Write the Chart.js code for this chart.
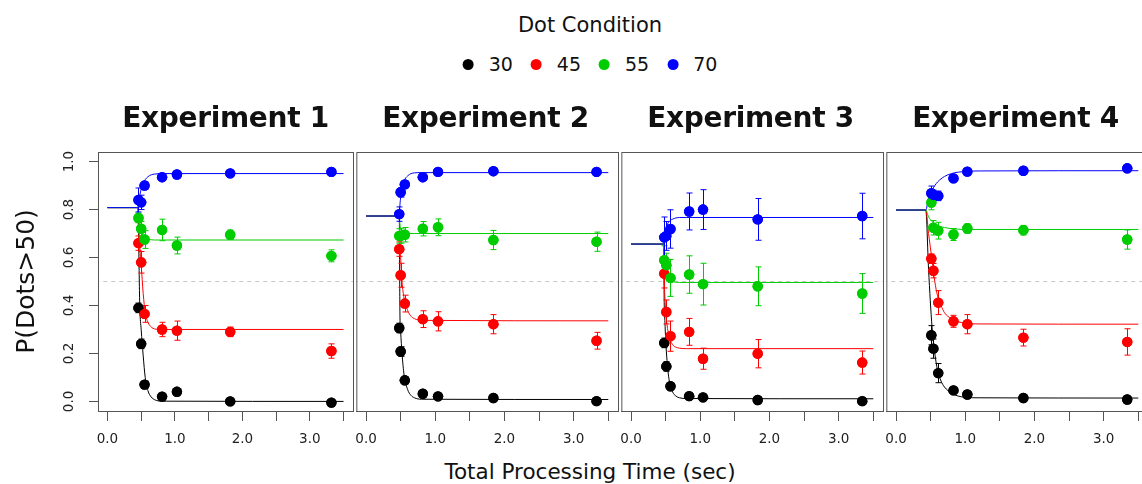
<!DOCTYPE html>
<html lang="en">
<head>
<meta charset="UTF-8">
<title>Dot Condition</title>
<script src="https://cdn.jsdelivr.net/npm/chart.js"></script>
<style>
    body {
        margin: 0;
        background: #ffffff;
        font-family: 'DejaVu Sans', sans-serif;
        color: #111111;
    }

    .fig {
        position: relative;
        width: 1142px;
        height: 484px;
        overflow: hidden;
    }

    .fig canvas {
        position: absolute;
        top: 0;
    }

    .head {
        position: absolute;
        left: 590px;
        transform: translateX(-50%);
        white-space: nowrap;
    }

    #legend-title {
        top: 15px;
        font-size: 21px;
        line-height: 21px;
    }

    #legend {
        top: 55px;
        font-size: 19px;
        line-height: 19px;
        display: flex;
        align-items: center;
    }

    #legend .dot {
        display: inline-block;
        width: 11px;
        height: 11px;
        border-radius: 50%;
        margin: 0 15px 0 18px;
    }

    #legend .dot:first-child {
        margin-left: 0;
    }

    .exp-title {
        position: absolute;
        top: 104px;
        font-size: 28px;
        line-height: 28px;
        font-weight: bold;
        transform: translateX(-50%);
        white-space: nowrap;
        letter-spacing: -0.3px;
    }

    #x-title {
        top: 461px;
        font-size: 21.5px;
        line-height: 21.5px;
    }
</style>
</head>
<body>
<div class="fig" id="fig">
    <div class="head" id="legend-title">Dot Condition</div>
    <div class="head" id="legend"></div>
    <div class="head" id="x-title">Total Processing Time (sec)</div>
</div>
<script>
    const conditions = ['30', '45', '55', '70'];
    const colors = ['#000000', '#ff0000', '#00cd00', '#0000ff'];
    const experiments = ['Experiment 1', 'Experiment 2', 'Experiment 3', 'Experiment 4'];

    const xTicks = [0, 0.5, 1, 1.5, 2, 2.5, 3, 3.5];
    const xTickLabels = ['0.0', '', '1.0', '', '2.0', '', '3.0', ''];
    const yTicks = [0, 0.2, 0.4, 0.6, 0.8, 1.0];
    const yTickLabels = ['0.0', '0.2', '0.4', '0.6', '0.8', '1.0'];

    // observed P(Dots>50), rows = 30, 45, 55, 70
    const exp1Time = [0.46, 0.50, 0.55, 0.81, 1.03, 1.82, 3.32];
    const exp1P = [
        [0.39, 0.24, 0.07, 0.02, 0.04, 0.00, -0.005],
        [0.66, 0.58, 0.365, 0.30, 0.295, 0.29, 0.21],
        [0.765, 0.72, 0.675, 0.715, 0.65, 0.695, 0.607],
        [0.84, 0.83, 0.90, 0.935, 0.946, 0.951, 0.957]
    ];
    const exp1SE = [
        [0.02, 0.02, 0.015, 0.01, 0.01, 0.005, 0.005],
        [0.03, 0.045, 0.035, 0.03, 0.04, 0.02, 0.03],
        [0.02, 0.03, 0.037, 0.045, 0.035, 0.02, 0.025],
        [0.05, 0.03, 0.015, 0.01, 0.01, 0.008, 0.008]
    ];

    const exp2Time = [0.48, 0.50, 0.56, 0.82, 1.04, 1.84, 3.33];
    const exp2P = [
        [0.306, 0.208, 0.088, 0.032, 0.021, 0.014, 0.001],
        [0.635, 0.526, 0.408, 0.343, 0.334, 0.322, 0.253],
        [0.69, 0.69, 0.695, 0.72, 0.726, 0.673, 0.666],
        [0.781, 0.872, 0.905, 0.935, 0.957, 0.96, 0.957]
    ];
    const exp2SE = [
        [0.02, 0.02, 0.015, 0.01, 0.01, 0.008, 0.005],
        [0.03, 0.05, 0.035, 0.035, 0.04, 0.04, 0.035],
        [0.03, 0.03, 0.03, 0.03, 0.035, 0.04, 0.04],
        [0.03, 0.02, 0.015, 0.01, 0.01, 0.008, 0.008]
    ];

    const exp3Time = [0.48, 0.51, 0.57, 0.84, 1.04, 1.83, 3.34];
    const exp3P = [
        [0.244, 0.146, 0.063, 0.022, 0.017, 0.006, 0.001],
        [0.533, 0.373, 0.272, 0.29, 0.178, 0.199, 0.162],
        [0.589, 0.568, 0.515, 0.529, 0.489, 0.48, 0.45],
        [0.684, 0.69, 0.719, 0.792, 0.80, 0.759, 0.773]
    ];
    const exp3SE = [
        [0.02, 0.02, 0.015, 0.01, 0.01, 0.008, 0.005],
        [0.06, 0.05, 0.063, 0.056, 0.044, 0.059, 0.048],
        [0.06, 0.05, 0.077, 0.078, 0.087, 0.081, 0.083],
        [0.085, 0.06, 0.08, 0.077, 0.083, 0.087, 0.095]
    ];

    const exp4Time = [0.51, 0.54, 0.61, 0.83, 1.03, 1.84, 3.34];
    const exp4P = [
        [0.276, 0.22, 0.118, 0.046, 0.029, 0.014, 0.008],
        [0.595, 0.545, 0.412, 0.334, 0.322, 0.266, 0.248],
        [0.829, 0.724, 0.712, 0.696, 0.721, 0.714, 0.675],
        [0.868, 0.861, 0.857, 0.93, 0.958, 0.962, 0.972]
    ];
    const exp4SE = [
        [0.04, 0.04, 0.04, 0.01, 0.01, 0.008, 0.005],
        [0.02, 0.03, 0.05, 0.025, 0.04, 0.035, 0.055],
        [0.03, 0.03, 0.035, 0.025, 0.02, 0.02, 0.04],
        [0.03, 0.02, 0.02, 0.01, 0.008, 0.008, 0.008]
    ];

    // fitted curves at these times
    const exp1FitTime = [0, 0.45, 0.48, 0.50, 0.53, 0.56, 0.60, 0.65, 0.70, 0.80, 3.5];
    const exp1Fit = [
        [0.808, 0.808, 0.39, 0.30, 0.19, 0.10, 0.045, 0.018, 0.007, 0.001, 0.0],
        [0.808, 0.808, 0.64, 0.57, 0.45, 0.37, 0.33, 0.31, 0.302, 0.30, 0.30],
        [0.808, 0.808, 0.74, 0.71, 0.69, 0.68, 0.676, 0.674, 0.673, 0.673, 0.673],
        [0.808, 0.808, 0.86, 0.885, 0.91, 0.925, 0.937, 0.945, 0.948, 0.95, 0.95]
    ];

    const exp2FitTime = [0, 0.48, 0.49, 0.50, 0.52, 0.55, 0.60, 0.65, 0.70, 0.80, 3.5];
    const exp2Fit = [
        [0.773, 0.773, 0.36, 0.29, 0.20, 0.11, 0.05, 0.025, 0.015, 0.009, 0.008],
        [0.773, 0.773, 0.66, 0.60, 0.50, 0.43, 0.38, 0.355, 0.345, 0.338, 0.336],
        [0.773, 0.773, 0.74, 0.72, 0.705, 0.70, 0.70, 0.70, 0.70, 0.70, 0.70],
        [0.773, 0.773, 0.82, 0.85, 0.89, 0.92, 0.94, 0.95, 0.953, 0.954, 0.954]
    ];

    const exp3FitTime = [0, 0.47, 0.48, 0.49, 0.50, 0.52, 0.55, 0.60, 0.65, 0.70, 0.80, 3.5];
    const exp3Fit = [
        [0.656, 0.656, 0.40, 0.33, 0.26, 0.17, 0.09, 0.04, 0.022, 0.015, 0.012, 0.011],
        [0.656, 0.656, 0.50, 0.43, 0.38, 0.32, 0.27, 0.237, 0.226, 0.222, 0.22, 0.22],
        [0.656, 0.656, 0.61, 0.58, 0.56, 0.53, 0.51, 0.50, 0.497, 0.496, 0.496, 0.496],
        [0.656, 0.656, 0.68, 0.70, 0.715, 0.735, 0.75, 0.76, 0.765, 0.767, 0.767, 0.767]
    ];

    const exp4FitTime = [0, 0.43, 0.47, 0.52, 0.56, 0.60, 0.65, 0.70, 0.80, 0.90, 1.0, 1.2, 3.5];
    const exp4Fit = [
        [0.798, 0.798, 0.55, 0.31, 0.20, 0.13, 0.085, 0.06, 0.035, 0.022, 0.017, 0.015, 0.014],
        [0.798, 0.798, 0.70, 0.59, 0.50, 0.44, 0.40, 0.37, 0.345, 0.332, 0.326, 0.323, 0.322],
        [0.798, 0.798, 0.77, 0.75, 0.74, 0.733, 0.728, 0.725, 0.72, 0.718, 0.717, 0.717, 0.717],
        [0.798, 0.798, 0.85, 0.88, 0.90, 0.915, 0.928, 0.938, 0.95, 0.956, 0.959, 0.961, 0.962]
    ];

    const panels = [
        { time: exp1Time, p: exp1P, se: exp1SE, fitTime: exp1FitTime, fit: exp1Fit },
        { time: exp2Time, p: exp2P, se: exp2SE, fitTime: exp2FitTime, fit: exp2Fit },
        { time: exp3Time, p: exp3P, se: exp3SE, fitTime: exp3FitTime, fit: exp3Fit },
        { time: exp4Time, p: exp4P, se: exp4SE, fitTime: exp4FitTime, fit: exp4Fit }
    ];

    // plot boxes in page pixels
    const panelLeft = [98, 353, 618, 883];
    const panelRight = [353, 618, 883, 1148];
    const boxTop = 152;
    const boxBottom = 411;
    const pageH = 484;

    Chart.defaults.font.family = "'DejaVu Sans', sans-serif";
    Chart.defaults.color = '#222222';

    const fig = document.getElementById('fig');

    // legend
    const legend = document.getElementById('legend');
    conditions.forEach((c, k) => {
        legend.innerHTML += `<span class="dot" style="background:${colors[k]}"></span><span>${c}</span>`;
    });

    // box around each panel
    const boxPlugin = {
        id: 'box',
        afterDraw(chart) {
            const a = chart.chartArea;
            const ctx = chart.ctx;
            ctx.save();
            ctx.strokeStyle = '#555555';
            ctx.lineWidth = 1;
            ctx.strokeRect(a.left + 0.5, a.top + 0.5, a.right - a.left, a.bottom - a.top);
            ctx.restore();
        }
    };

    // error bars from the se arrays
    const errorBarPlugin = {
        id: 'errorBars',
        afterDatasetsDraw(chart) {
            const ctx = chart.ctx;
            const xs = chart.scales.x;
            const ys = chart.scales.y;
            ctx.save();
            ctx.lineWidth = 1;
            chart.data.datasets.forEach(ds => {
                if (!ds.errors) return;
                ctx.strokeStyle = ds.pointBackgroundColor;
                ds.data.forEach((pt, j) => {
                    const e = ds.errors[j];
                    const px = Math.round(xs.getPixelForValue(pt.x)) + 0.5;
                    const y1 = ys.getPixelForValue(pt.y - e);
                    const y2 = ys.getPixelForValue(pt.y + e);
                    ctx.beginPath();
                    ctx.moveTo(px, y1);
                    ctx.lineTo(px, y2);
                    ctx.moveTo(px - 3, y1);
                    ctx.lineTo(px + 3, y1);
                    ctx.moveTo(px - 3, y2);
                    ctx.lineTo(px + 3, y2);
                    ctx.stroke();
                });
            });
            ctx.restore();
        }
    };

    // redraw points over the error bars
    const pointsOnTop = {
        id: 'pointsOnTop',
        afterDatasetsDraw(chart) {
            chart.data.datasets.forEach((ds, i) => {
                if (!ds.errors) return;
                chart.getDatasetMeta(i).data.forEach(el => el.draw(chart.ctx, chart.chartArea));
            });
        }
    };

    panels.forEach((panel, i) => {
        const first = i === 0;
        const margin = 8;
        const left = first ? 0 : panelLeft[i] - margin;
        const width = panelRight[i] + margin - left;

        const canvas = document.createElement('canvas');
        canvas.width = width;
        canvas.height = pageH;
        canvas.style.left = left + 'px';
        fig.appendChild(canvas);

        const title = document.createElement('div');
        title.className = 'exp-title';
        title.textContent = experiments[i];
        title.style.left = ((panelLeft[i] + panelRight[i]) / 2) + 'px';
        fig.appendChild(title);

        const datasets = [{
            data: [{ x: -0.3, y: 0.5 }, { x: 4, y: 0.5 }],
            showLine: true,
            borderColor: '#c8c8c8',
            borderWidth: 1,
            borderDash: [4, 4],
            pointRadius: 0,
            order: 10
        }];

        conditions.forEach((c, k) => {
            datasets.push({
                label: c + ' fit',
                data: panel.fitTime.map((t, j) => ({ x: t, y: panel.fit[k][j] })),
                showLine: true,
                borderColor: colors[k],
                borderWidth: 1,
                pointRadius: 0,
                cubicInterpolationMode: 'monotone',
                order: 8 - k
            });
            datasets.push({
                label: c,
                data: panel.time.map((t, j) => ({ x: t, y: panel.p[k][j] })),
                errors: panel.se[k],
                pointRadius: 5.2,
                pointBackgroundColor: colors[k],
                pointBorderWidth: 0,
                order: 3 - k
            });
        });

        new Chart(canvas, {
            type: 'scatter',
            data: { datasets },
            options: {
                responsive: false,
                animation: false,
                devicePixelRatio: 1,
                layout: {
                    padding: { left: first ? 0 : margin, right: margin, top: boxTop, bottom: 0 }
                },
                plugins: {
                    legend: { display: false },
                    tooltip: { enabled: false }
                },
                scales: {
                    x: {
                        type: 'linear',
                        min: -0.14,
                        max: 3.64,
                        afterBuildTicks: s => { s.ticks = xTicks.map(v => ({ value: v })); },
                        afterFit: s => { s.height = pageH - boxBottom; },
                        ticks: {
                            autoSkip: false,
                            maxRotation: 0,
                            padding: 10,
                            font: { size: 13.5 },
                            color: '#222222',
                            callback: (v, j) => xTickLabels[j]
                        },
                        grid: { drawOnChartArea: false, tickLength: 10, color: '#555555' },
                        border: { color: '#555555' }
                    },
                    y: {
                        display: first,
                        min: -0.04,
                        max: 1.04,
                        afterBuildTicks: s => { s.ticks = yTicks.map(v => ({ value: v })); },
                        afterFit: s => { s.width = first ? panelLeft[0] : 0; },
                        ticks: {
                            minRotation: 90,
                            maxRotation: 90,
                            crossAlign: 'center',
                            padding: 9,
                            font: { size: 13.5 },
                            color: '#222222',
                            callback: (v, j) => yTickLabels[j]
                        },
                        grid: { drawOnChartArea: false, tickLength: 9, color: '#555555' },
                        border: { color: '#555555' },
                        title: {
                            display: true,
                            text: 'P(Dots>50)',
                            font: { size: 25 },
                            color: '#111111',
                            padding: { top: 12, bottom: 0 }
                        }
                    }
                }
            },
            plugins: [boxPlugin, errorBarPlugin, pointsOnTop]
        });
    });
</script>
</body>
</html>
